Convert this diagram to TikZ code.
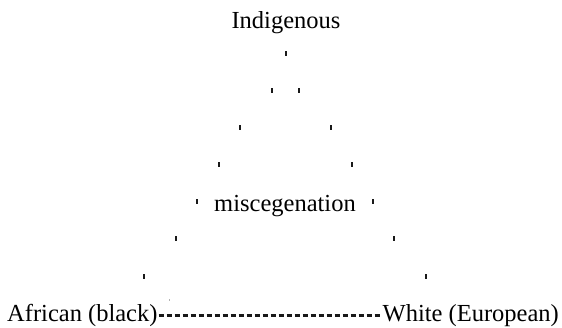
\documentclass[tikz,border=0pt]{standalone}
\usepackage{fontspec}
\setmainfont{Liberation Serif}
\begin{document}
\begin{tikzpicture}[x=1pt,y=-1pt,
  label/.style={inner sep=0pt,font=\fontsize{24.5}{28}\selectfont},
  tickmark/.style={line width=2pt,line cap=butt,black!90},
  dashline/.style={line width=2.3pt,dash pattern=on 5.2pt off 2.8pt,black!90}]
\useasboundingbox (0,0) rectangle (562,328);

% corner and centre labels
\node[label,anchor=base] (ind) at (286,29) {Indigenous};
\node[label,anchor=base] (mis) at (285,212) {miscegenation};
\node[label,anchor=base west] (afr) at (7,322) {African (black)};
\node[label,anchor=base east] (wht) at (559,322) {White (European)};

% dashed base between the two lower labels, at hyphen height
\coordinate (dl) at ([yshift=6.5pt]afr.base east);
\coordinate (dr) at ([yshift=6.5pt]wht.base west);
\draw[dashline] ([xshift=1pt]dl) -- ([xshift=-1pt]dr);

% small tick marks tracing the two sides of the triangle
\foreach \n/\xx/\yy in {t/286/53,
    l2/272/90, r2/299/90,
    l3/240/127, r3/331/127,
    l4/219/164, r4/352/164,
    l5/197/201, r5/373/201,
    l6/176/238, r6/394/238,
    l7/144/276, r7/426/276}{
  \coordinate (\n) at (\xx,\yy);
  \draw[tickmark] ([yshift=-2.6pt]\n) -- ([yshift=2.4pt]\n);
}

% faint speck above the base line
\coordinate (speck) at (169,300);
\draw[line width=0.6pt,black!30] ([yshift=-1pt]speck) -- ([yshift=1pt]speck);
\end{tikzpicture}
\end{document}
